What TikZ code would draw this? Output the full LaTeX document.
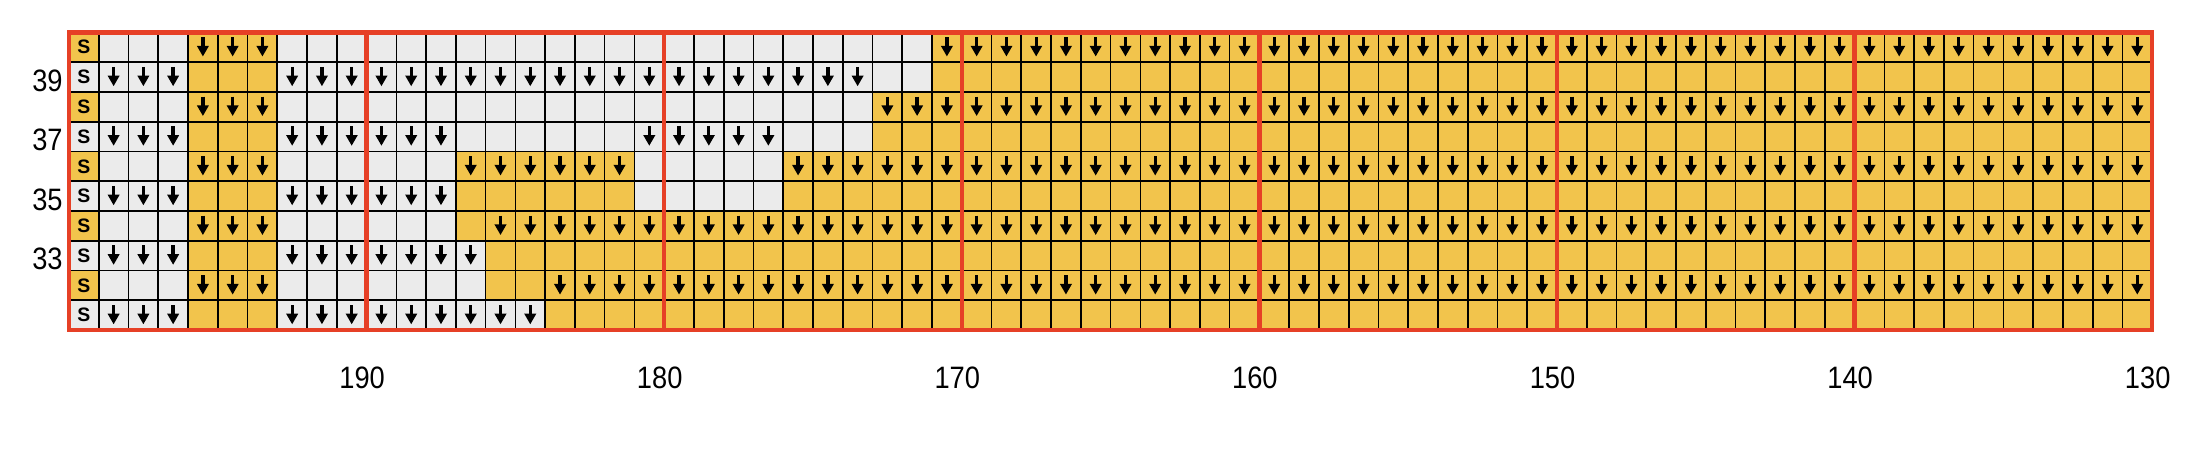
\documentclass[tikz,border=0pt]{standalone}
\usepackage{fontspec}
\setmainfont{Liberation Sans}
\newfontfamily\lblfont[FakeStretch=0.88]{Liberation Sans}
\usetikzlibrary{arrows.meta}
\definecolor{chartyellow}{RGB}{242,196,76}
\definecolor{chartgray}{RGB}{235,235,235}
\definecolor{chartred}{RGB}{230,64,38}

\begin{document}
\begin{tikzpicture}[x=0.5cm, y=0.5cm,
    gridline/.style={line width=0.8pt},
    dn/.style={-{Triangle[width=5.4pt,length=5.1pt]}, line width=1.6pt},
    stitch/.style={font=\bfseries\fontsize{9.3}{10}\selectfont, inner sep=0pt},
    lbl/.style={font=\lblfont\fontsize{14.8}{16}\selectfont, inner sep=0pt},
    redline/.style={draw=chartred, line width=2.1pt}
]
\useasboundingbox (-2.318,-4.503) rectangle (71.54,11.089);

% yellow ground, grey runs (row from top / first col / last col)
\fill[chartyellow] (0,0) rectangle (70,10);
\foreach \r/\a/\b in {0/1/3, 0/7/28, 1/1/3, 1/7/28, 2/1/3, 2/7/26, 3/1/3, 3/7/26,
    4/1/3, 4/7/12, 4/19/23, 5/1/3, 5/7/12, 5/19/23, 6/1/3, 6/7/12,
    7/1/3, 7/7/13, 8/1/3, 8/7/13, 9/1/3, 9/7/15}
  \fill[chartgray] (\a,9-\r) rectangle (\b+1,10-\r);
\foreach \r in {1,3,5,7,9}
  \fill[chartgray] (0,9-\r) rectangle (1,10-\r);

\foreach \x in {1,...,69}
  \draw[gridline] (\x,0) -- (\x,10);
\foreach \y in {1,...,9}
  \draw[gridline] (0,\y) -- (70,\y);

% arrows
\foreach \r/\a/\b in {0/4/6, 0/29/69, 1/1/3, 1/7/26, 2/4/6, 2/27/69,
    3/1/3, 3/7/12, 3/19/23, 4/4/6, 4/13/18, 4/24/69, 5/1/3, 5/7/12,
    6/4/6, 6/14/69, 7/1/3, 7/7/13, 8/4/6, 8/16/69, 9/1/3, 9/7/15}
  \foreach \c in {\a,...,\b}
    \draw[dn] (\c+0.5,9.84-\r) -- (\c+0.5,9.19-\r);

\foreach \r in {0,...,9}
  \node[stitch] (s\r) at (0.5,9.5-\r) {S};

% red tens
\foreach \x in {10,20,...,60}
  \draw[redline] (\x,0) -- (\x,10);
\draw[redline, line width=2.2pt] (0,0) rectangle (70,10);

% numbers
\foreach \n in {39,37,35,33}
  \node[lbl, anchor=base east] (row\n) at (-0.2,\n-30.97) {\n};
\foreach \v [count=\i] in {190,180,...,130}
  \node[lbl, anchor=base] (col\v) at (10*\i-0.15,-1.98) {\v};
\end{tikzpicture}
\end{document}
